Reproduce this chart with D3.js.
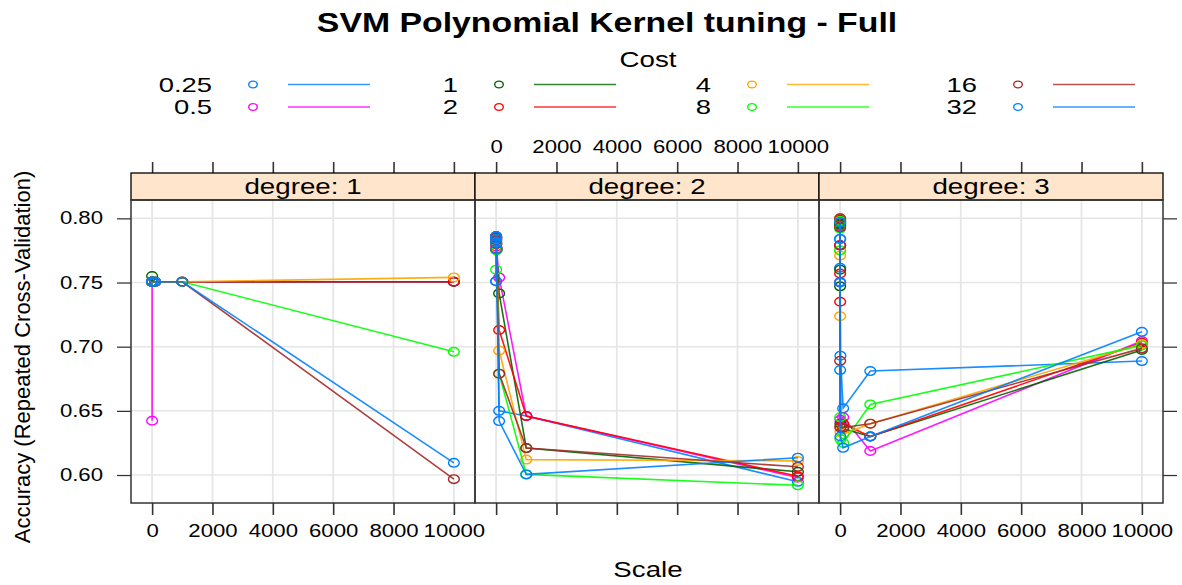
<!DOCTYPE html>
<html>
<head>
<meta charset="utf-8">
<script src="https://cdn.jsdelivr.net/npm/d3@7"></script>
<style>
  html, body { margin: 0; padding: 0; background: #ffffff; }
  svg { display: block; font-family: "Liberation Sans", Arial, Helvetica, sans-serif; }
</style>
</head>
<body>
<svg id="chart" width="1182" height="585"></svg>
<script>
// Tuning grid
const scaleValues = [0.001, 0.01, 0.1, 1, 10, 100, 1000, 10000];
const costLabels = ["0.25", "0.5", "1", "2", "4", "8", "16", "32"];
const degreeLabels = ["degree: 1", "degree: 2", "degree: 3"];
const costColors = ["#0080ff", "#ff00ff", "#006400", "#ff0000", "#ffa500", "#00ff00", "#a52a2a", "#0080ff"];
const xTickValues = [0, 2000, 4000, 6000, 8000, 10000];
const yTickValues = [0.60, 0.65, 0.70, 0.75, 0.80];

// Resampled accuracy, one row per cost, one column per scale value
const accDegree1 = [
  [0.7506, 0.7506, 0.7506, 0.7506, 0.7506, 0.7506, 0.7506, 0.7506],
  [0.6423, 0.7506, 0.7506, 0.7506, 0.7506, 0.7506, 0.7506, 0.7506],
  [0.7550, 0.7506, 0.7506, 0.7506, 0.7506, 0.7506, 0.7506, 0.7506],
  [0.7506, 0.7506, 0.7506, 0.7506, 0.7506, 0.7506, 0.7506, 0.7506],
  [0.7506, 0.7506, 0.7506, 0.7506, 0.7506, 0.7506, 0.7506, 0.7540],
  [0.7506, 0.7506, 0.7506, 0.7506, 0.7506, 0.7506, 0.7506, 0.6960],
  [0.7506, 0.7506, 0.7506, 0.7506, 0.7506, 0.7506, 0.7506, 0.5968],
  [0.7506, 0.7506, 0.7506, 0.7506, 0.7506, 0.7506, 0.7506, 0.6095]
];
const accDegree2 = [
  [0.7510, 0.7830, 0.7850, 0.7800, 0.7760, 0.6500, 0.6460, 0.5947],
  [0.7780, 0.7840, 0.7850, 0.7820, 0.7770, 0.7540, 0.6460, 0.5980],
  [0.7800, 0.7860, 0.7850, 0.7810, 0.7760, 0.7415, 0.6210, 0.6025],
  [0.7760, 0.7860, 0.7840, 0.7800, 0.7760, 0.7130, 0.6460, 0.5990],
  [0.7810, 0.7850, 0.7840, 0.7800, 0.7770, 0.6970, 0.6120, 0.6110],
  [0.7600, 0.7850, 0.7860, 0.7810, 0.7750, 0.6790, 0.6005, 0.5920],
  [0.7830, 0.7860, 0.7850, 0.7800, 0.7760, 0.6790, 0.6210, 0.6064],
  [0.7510, 0.7840, 0.7860, 0.7810, 0.7760, 0.6420, 0.6005, 0.6135]
];
const accDegree3 = [
  [0.7505, 0.7840, 0.7970, 0.7615, 0.6930, 0.6520, 0.6810, 0.6888],
  [0.7500, 0.7940, 0.7980, 0.7790, 0.6430, 0.6450, 0.6187, 0.7044],
  [0.7470, 0.7960, 0.7950, 0.7600, 0.6400, 0.6360, 0.6300, 0.6974],
  [0.7570, 0.7990, 0.7790, 0.7350, 0.6380, 0.6400, 0.6300, 0.7030],
  [0.7710, 0.8000, 0.7750, 0.7238, 0.6340, 0.6320, 0.6400, 0.7020],
  [0.7750, 0.7980, 0.7920, 0.6450, 0.6280, 0.6250, 0.6550, 0.7010],
  [0.7790, 0.8000, 0.7930, 0.6890, 0.6370, 0.6370, 0.6400, 0.6987],
  [0.7500, 0.7970, 0.7840, 0.6818, 0.6300, 0.6212, 0.6300, 0.7116]
];
const accByDegree = [accDegree1, accDegree2, accDegree3];

const svg = d3.select("#chart");
const font = "'Liberation Sans', Arial, Helvetica, sans-serif";
const stretch = 1.26;          // horizontal widening of all lettering and point symbols
const baseSize = 22;           // base font size; axis labels use 0.8x, title 1.2x

// Text placed at (x, y) and widened horizontally
function addText(parent, x, y, str, size, anchor, weight, widen) {
  return parent.append("text")
    .attr("transform", `translate(${x},${y}) scale(${widen || stretch},1)`)
    .attr("text-anchor", anchor || "middle")
    .attr("font-size", size)
    .attr("font-weight", weight || "normal")
    .attr("fill", "#000")
    .text(str);
}
function widenAxisText(axisSel) {
  axisSel.selectAll("text").each(function () {
    const t = d3.select(this);
    const x = +t.attr("x") || 0;
    t.attr("x", x / stretch).attr("transform", `scale(${stretch},1)`)
      .attr("font-size", baseSize * 0.8).attr("fill", "#000").attr("font-family", font);
  });
}
function styleTicks(axisSel, vertical) {
  axisSel.select(".domain").remove();
  axisSel.selectAll("line").attr("stroke", "#333").attr("stroke-width", vertical ? 1.6 : 1.25);
}

// Panel geometry
const panelLeft = [131, 475, 819];
const panelWidth = 344;
const stripTop = 173, stripBottom = 200, plotBottom = 503;

const y = d3.scaleLinear().domain([0.5782, 0.8143]).range([plotBottom, stripBottom]);

// Title, legend heading
addText(svg, 607, 32, "SVM Polynomial Kernel tuning - Full", baseSize * 1.22, "middle", "bold");
addText(svg, 648, 67, "Cost", baseSize);

// Legend: 4 columns x 2 rows, filled column by column
const legendTextRight = [212, 458, 711, 977];
const legendRowY = [84.5, 107];
const legendSize = 20;
costLabels.forEach((lab, i) => {
  const col = Math.floor(i / 2), row = i % 2;
  const xr = legendTextRight[col], cy = legendRowY[row];
  const g = svg.append("g");
  addText(g, xr, cy + 7.2, lab, legendSize, "end", "normal", 1.37);
  g.append("ellipse").attr("cx", xr + 41).attr("cy", cy).attr("rx", 4.3).attr("ry", 3.4)
    .attr("fill", "none").attr("stroke", costColors[i]).attr("stroke-width", 1.4);
  g.append("line").attr("x1", xr + 76).attr("x2", xr + 158).attr("y1", cy).attr("y2", cy)
    .attr("stroke", costColors[i]).attr("stroke-width", 1.5).attr("stroke-opacity", 0.8);
});

// Axis titles (the rotated one runs along y)
svg.append("text").attr("transform", "translate(30,357) rotate(-90)")
  .attr("text-anchor", "middle").attr("font-size", baseSize).attr("fill", "#000")
  .attr("font-family", font)
  .text("Accuracy (Repeated Cross-Validation)");
addText(svg, 648, 577, "Scale", baseSize);

degreeLabels.forEach((dlab, p) => {
  const x0 = panelLeft[p];
  const x = d3.scaleLinear().domain([-700, 10700]).range([x0, x0 + panelWidth]);
  const g = svg.append("g");

  // grid
  g.selectAll(".gx").data(xTickValues).join("line")
    .attr("x1", d => x(d)).attr("x2", d => x(d)).attr("y1", stripBottom).attr("y2", plotBottom)
    .attr("stroke", "#e6e6e6").attr("stroke-width", 1.8);
  g.selectAll(".gy").data(yTickValues).join("line")
    .attr("x1", x0).attr("x2", x0 + panelWidth).attr("y1", d => y(d)).attr("y2", d => y(d))
    .attr("stroke", "#e6e6e6").attr("stroke-width", 1.5);

  // bottom axis: ticks everywhere, labels on panels 1 and 3
  const bottom = d3.axisBottom(x).tickValues(xTickValues).tickSizeInner(12).tickSizeOuter(0).tickPadding(10)
    .tickFormat(p === 1 ? () => "" : d3.format("d"));
  const bAx = g.append("g").attr("transform", `translate(0,${plotBottom})`).call(bottom);
  // top axis: ticks everywhere, labels on panel 2
  const top = d3.axisTop(x).tickValues(xTickValues).tickSizeInner(11).tickSizeOuter(0).tickPadding(9)
    .tickFormat(p === 1 ? d3.format("d") : () => "");
  const tAx = g.append("g").attr("transform", `translate(0,${stripTop})`).call(top);
  [bAx, tAx].forEach(a => { styleTicks(a, true); widenAxisText(a); });

  if (p === 0) {
    const left = d3.axisLeft(y).tickValues(yTickValues).tickSizeInner(14).tickSizeOuter(0).tickPadding(14)
      .tickFormat(d3.format(".2f"));
    const lAx = g.append("g").attr("transform", `translate(${x0},0)`).call(left);
    styleTicks(lAx, false);
    widenAxisText(lAx);
  }
  if (p === 2) {
    const right = d3.axisRight(y).tickValues(yTickValues).tickSizeInner(14).tickSizeOuter(0).tickFormat(() => "");
    const rAx = g.append("g").attr("transform", `translate(${x0 + panelWidth},0)`).call(right);
    styleTicks(rAx, false);
  }

  // strip
  g.append("rect").attr("x", x0).attr("y", stripTop).attr("width", panelWidth).attr("height", stripBottom - stripTop)
    .attr("fill", "#ffe5cc").attr("stroke", "#000").attr("stroke-width", 1.3);
  addText(g, x0 + panelWidth / 2, stripBottom - 6.5, dlab, baseSize);

  // series: one line plus open symbols per cost
  const line = d3.line().x(d => x(d[0])).y(d => y(d[1]));
  accByDegree[p].forEach((vals, ci) => {
    const pts = scaleValues.map((s, k) => [s, vals[k]]);
    g.append("path").attr("d", line(pts)).attr("fill", "none")
      .attr("stroke", costColors[ci]).attr("stroke-width", 1.6).attr("stroke-opacity", 0.9);
    g.selectAll(null).data(pts).join("ellipse")
      .attr("cx", d => x(d[0])).attr("cy", d => y(d[1])).attr("rx", 5.4).attr("ry", 4.3)
      .attr("fill", "none").attr("stroke", costColors[ci]).attr("stroke-width", 1.4);
  });

  // panel border
  g.append("rect").attr("x", x0).attr("y", stripBottom).attr("width", panelWidth).attr("height", plotBottom - stripBottom)
    .attr("fill", "none").attr("stroke", "#333").attr("stroke-width", 1.5);
});
</script>
</body>
</html>
